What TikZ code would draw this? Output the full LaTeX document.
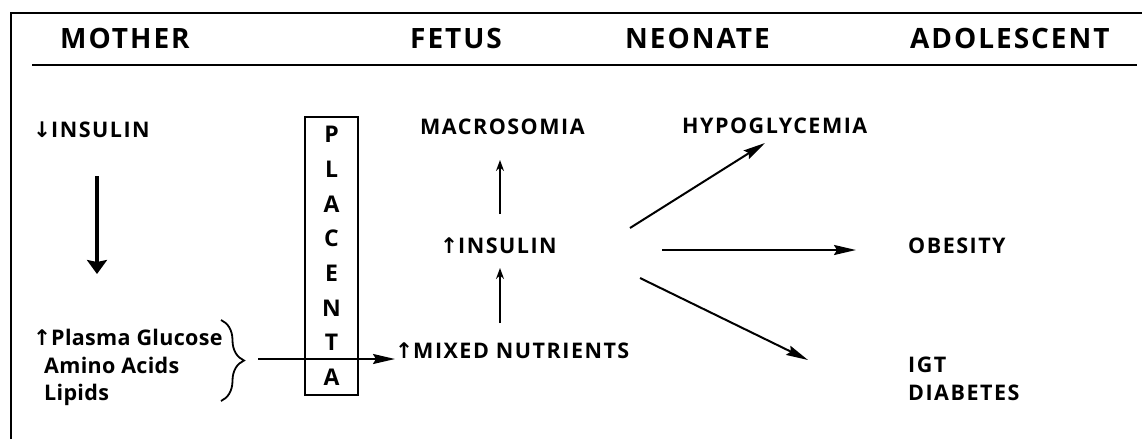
\documentclass[tikz,border=0pt]{standalone}
\usepackage{fontspec}
\setmainfont{Open Sans}[LetterSpace=7]
\newfontfamily\lowfont{Open Sans}[LetterSpace=1.5]
\newfontfamily\arrfont{DejaVu Sans}
\usetikzlibrary{arrows.meta,decorations.pathreplacing}
\newcommand{\up}{{\arrfont ↑}}
\newcommand{\dn}{{\arrfont\bfseries ↓}}
\begin{document}
\begin{tikzpicture}[x=1pt,y=-1pt,
  head/.style={font=\bfseries\fontsize{28}{30}\selectfont, inner sep=0pt, anchor=base west},
  txt/.style={font=\bfseries\fontsize{21.5}{24}\selectfont, inner sep=0pt, anchor=base west},
  lowtxt/.style={font=\lowfont\bfseries\fontsize{21.5}{24}\selectfont, inner sep=0pt, anchor=base west},
  thin arrow/.style={-{Stealth[length=11pt,width=8pt]}, line width=1.8pt},
  long arrow/.style={-{Stealth[length=22pt,width=10pt,inset=3pt]}, line width=2pt},
  big arrow/.style={-{Stealth[length=14pt,width=20pt,inset=2pt]}, line width=3.6pt},
  frame/.style={line width=2pt},
]
\useasboundingbox (0,0) rectangle (1142,439);
% frame
\coordinate (ftl) at (11,13);
\coordinate (ftr) at (1142,13);
\coordinate (fbl) at (11,439);
\draw[frame] (fbl) -- (ftl) -- (ftr);
\coordinate (rl) at (32,65);
\coordinate (rr) at (1137,65);
\draw[line width=2.6pt] (rl) -- (rr);
% headers
\node[head] (hm) at (60,48) {MOTHER};
\node[head] (hf) at (410,48) {FETUS};
\node[head] (hn) at (625,48) {NEONATE};
\node[head] (ha) at (910,48) {ADOLESCENT};
% mother
\node[txt] (mins) at (33,137) {\dn INSULIN};
\node[lowtxt] (pg) at (33,345) {\up Plasma Glucose};
\node[lowtxt] (aa) at (44,373) {Amino Acids};
\node[lowtxt] (lp) at (44,400) {Lipids};
\coordinate (bt) at (221,320);
\coordinate (bb) at (221,401);
\draw[line width=1.8pt, decorate, decoration={brace, amplitude=23pt, aspect=0.5}] (bt) -- (bb);
\coordinate (d1) at (97,176);
\coordinate (d2) at (97,274);
\draw[big arrow] (d1) -- (d2);
% placenta
\node[draw, line width=1.6pt, minimum width=53pt, minimum height=278pt, inner sep=0pt,
      font=\bfseries\fontsize{23}{34.7}\selectfont, align=center] (pl) at (331.5,256)
      {P\\L\\A\\C\\E\\N\\T\\A};
% fetus
\node[txt] (mac) at (420,134) {MACROSOMIA};
\node[txt] (fins) at (440,253) {\up INSULIN};
\node[txt] (mix) at (395,358) {\up MIXED NUTRIENTS};
\coordinate (h1) at (258,359);
\draw[long arrow] (h1) -- (mix.west |- h1);
\coordinate (v1) at (500,323);
\coordinate (v2) at (500,268);
\coordinate (v3) at (500,214);
\coordinate (v4) at (500,160);
\draw[thin arrow] (v1) -- (v2);
\draw[thin arrow] (v3) -- (v4);
% neonate / adolescent
\node[txt] (hyp) at (682,133) {HYPOGLYCEMIA};
\node[txt] (ob) at (908,253) {OBESITY};
\node[txt] (igt) at (908,372) {IGT};
\node[txt] (dia) at (908,400) {DIABETES};
\coordinate (s1) at (630,228);
\coordinate (e1) at (765,143);
\coordinate (s2) at (662,250);
\coordinate (e2) at (856,250);
\coordinate (s3) at (640,278);
\coordinate (e3) at (808,360);
\draw[long arrow] (s1) -- (e1);
\draw[long arrow] (s2) -- (e2);
\draw[long arrow] (s3) -- (e3);
\end{tikzpicture}
\end{document}
